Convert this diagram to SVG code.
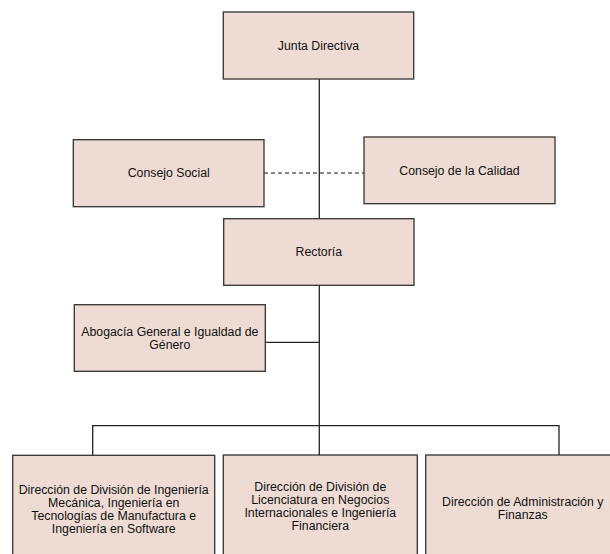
<svg xmlns="http://www.w3.org/2000/svg" width="610" height="554" viewBox="0 0 610 554">
<style>
.box{fill:#EEDCD4;stroke:#333;stroke-width:1.3}
.lbl{font-family:"Liberation Sans",Arial,sans-serif;font-size:12.3px;fill:#111;text-anchor:middle}
.ln{fill:none;stroke:#222;stroke-width:1.3}
.dash{fill:none;stroke:#111;stroke-width:1.2;stroke-dasharray:4 3}
</style>
<rect width="610" height="554" fill="#fff"/>
<g id="connectors">
<line class="ln" x1="319.3" y1="79" x2="319.3" y2="455"/>
<line class="dash" x1="264" y1="173" x2="364" y2="173"/>
<line class="ln" x1="265.3" y1="342.3" x2="319.3" y2="342.3"/>
<polyline class="ln" points="92.7,455.3 92.7,425.7 559,425.7 559,455"/>
</g>
<g id="junta">
<rect class="box" x="223.3" y="12" width="190.4" height="67"/>
<text class="lbl" x="318.5" y="49.5">Junta Directiva</text>
</g>
<g id="consejo-social">
<rect class="box" x="73.3" y="139.7" width="190.7" height="67"/>
<text class="lbl" x="168.7" y="177.3">Consejo Social</text>
</g>
<g id="consejo-calidad">
<rect class="box" x="364" y="137" width="191" height="66.7"/>
<text class="lbl" x="459.5" y="174.5">Consejo de la Calidad</text>
</g>
<g id="rectoria">
<rect class="box" x="223.7" y="218.7" width="190.3" height="66.6"/>
<text class="lbl" x="318.8" y="256.3">Rectoría</text>
</g>
<g id="abogacia">
<rect class="box" x="74.3" y="304.7" width="191" height="66.6"/>
<text class="lbl" x="169.8" y="335.7">Abogacía General e Igualdad de</text>
<text class="lbl" x="169.8" y="349">Género</text>
</g>
<g id="div-ingenieria">
<rect class="box" x="12.7" y="455.3" width="202" height="110"/>
<text class="lbl" x="113.7" y="494">Dirección de División de Ingeniería</text>
<text class="lbl" x="113.7" y="507">Mecánica, Ingeniería en</text>
<text class="lbl" x="113.7" y="520">Tecnologías de Manufactura e</text>
<text class="lbl" x="113.7" y="533">Ingeniería en Software</text>
</g>
<g id="div-licenciatura">
<rect class="box" x="223.3" y="455" width="194" height="110"/>
<text class="lbl" x="320.3" y="490.7">Dirección de División de</text>
<text class="lbl" x="320.3" y="503.8">Licenciatura en Negocios</text>
<text class="lbl" x="320.3" y="516.9">Internacionales e Ingeniería</text>
<text class="lbl" x="320.3" y="530">Financiera</text>
</g>
<g id="dir-administracion">
<rect class="box" x="425.7" y="455" width="194" height="110"/>
<text class="lbl" x="522.7" y="506">Dirección de Administración y</text>
<text class="lbl" x="522.7" y="518.8">Finanzas</text>
</g>
</svg>
